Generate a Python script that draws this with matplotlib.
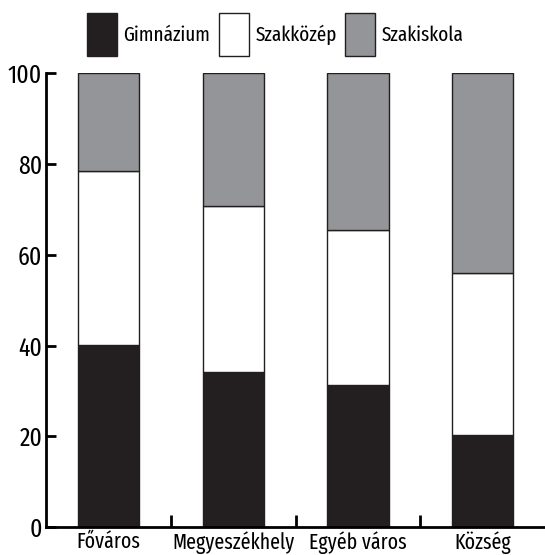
import matplotlib.pyplot as plt
import numpy as np
from matplotlib.patches import Patch

plt.rcParams['font.family'] = ['Fira Sans Extra Condensed', 'DejaVu Sans']

categories = ["Főváros", "Megyeszékhely", "Egyéb város", "Község"]
gimnazium = [40.1, 34.3, 31.3, 20.4]
szakkozep = [38.3, 36.4, 34.1, 35.6]
szakiskola = [21.6, 29.3, 34.6, 44.0]
series = ["Gimnázium", "Szakközép", "Szakiskola"]
colors = ["#231f20", "#ffffff", "#939598"]

fig = plt.figure(figsize=(5.45, 5.55), dpi=100)
ax = fig.add_axes([0.085, 0.05, 0.915, 0.818])

x = np.arange(len(categories))
bottom = np.zeros(len(categories))
for name, vals, c in zip(series, [gimnazium, szakkozep, szakiskola], colors):
    ax.bar(x, vals, width=0.49, bottom=bottom, color=c, edgecolor="#231f20", linewidth=1.0, label=name)
    bottom += np.array(vals)

ax.set_xlim(-0.5, 3.5)
ax.set_ylim(0, 100)
ax.set_yticks([0, 20, 40, 60, 80, 100])
ax.tick_params(axis="y", direction="in", length=7, width=2, labelsize=18.5, pad=3)
ax.set_xticks(x)
ax.set_xticklabels(categories)
ax.set_xticks([0.5, 1.5, 2.5], minor=True)
ax.tick_params(axis="x", which="major", length=0, labelsize=15.5, pad=3)
ax.tick_params(axis="x", which="minor", direction="in", length=9, width=2)
for s in ["top", "right"]:
    ax.spines[s].set_visible(False)
for s in ["left", "bottom"]:
    ax.spines[s].set_linewidth(2)

handles = [Patch(facecolor=c, edgecolor="#231f20", linewidth=1.0) for c in colors]
fig.legend(handles, series, loc="upper center", bbox_to_anchor=(0.505, 1.01), ncol=3, frameon=False,
           fontsize=15, handlelength=1.45, handleheight=2.8, handletextpad=0.3, columnspacing=0.4)

fig.savefig("out.png", dpi=100)
